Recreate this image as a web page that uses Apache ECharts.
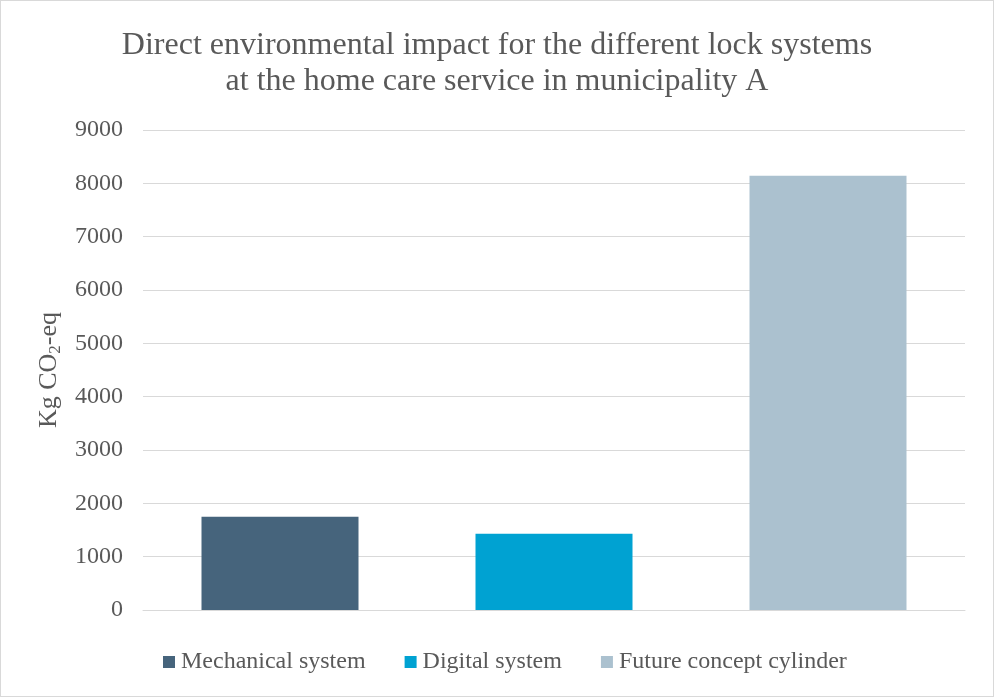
<!DOCTYPE html>
<html>
<head>
<meta charset="utf-8">
<style>
  html, body { margin: 0; padding: 0; background: #fff; }
  #chart { width: 994px; height: 697px; box-sizing: border-box; border: 1px solid #d9d9d9; }
</style>
<script src="https://cdn.jsdelivr.net/npm/echarts@6/dist/echarts.min.js"></script>
</head>
<body>
<div id="chart"></div>
<script>
// Lock systems compared and their direct impact (kg CO2-eq)
const categories = ['Mechanical system', 'Digital system', 'Future concept cylinder'];
const impactValues = [1750, 1430, 8140];
const seriesColors = ['#46647c', '#00a2d2', '#abc1cf'];
const yTicks = { min: 0, max: 9000, interval: 1000 };

const font = '"Liberation Serif", "Times New Roman", serif';
const textColor = '#595959';

const chart = echarts.init(document.getElementById('chart'));

// One series per system so each gets its own legend entry; stacking keeps bars centered
const series = categories.map((name, i) => ({
  name: name,
  type: 'bar',
  stack: 'all',
  barWidth: '57.3%',
  itemStyle: { color: seriesColors[i] },
  data: categories.map((_, j) => (j === i ? impactValues[i] : null))
}));

chart.setOption({
  animation: false,
  title: {
    text: 'Direct environmental impact for the different lock systems\nat the home care service in municipality A',
    left: 'center',
    top: 22,
    textStyle: { fontFamily: font, fontSize: 32, fontWeight: 'normal', color: textColor, lineHeight: 36 }
  },
  legend: {
    bottom: 17,
    left: 157,
    itemWidth: 12,
    itemHeight: 12,
    itemGap: 39,
    icon: 'rect',
    textStyle: { fontFamily: font, fontSize: 24, color: textColor, padding: [0, 0, 0, 1] },
    data: categories
  },
  grid: { left: 142, right: 28, top: 129, bottom: 86 },
  xAxis: {
    type: 'category',
    data: categories,
    axisLine: { show: true, lineStyle: { color: '#d9d9d9', width: 1 } },
    axisTick: { show: false },
    axisLabel: { show: false }
  },
  yAxis: {
    type: 'value',
    min: yTicks.min,
    max: yTicks.max,
    interval: yTicks.interval,
    name: '{a|Kg CO}{s|2}{a|-eq}',
    nameLocation: 'middle',
    nameGap: 74,
    nameTextStyle: {
      rich: {
        a: { fontFamily: font, fontSize: 26, color: textColor },
        s: { fontFamily: font, fontSize: 17, color: textColor, verticalAlign: 'bottom', padding: [12, 0, 0, 0] }
      }
    },
    axisLine: { show: false },
    axisTick: { show: false },
    axisLabel: { fontFamily: font, fontSize: 24, color: textColor, margin: 20, formatter: v => String(v) },
    splitLine: { lineStyle: { color: '#d9d9d9', width: 1 } }
  },
  series: series
});
</script>
</body>
</html>
